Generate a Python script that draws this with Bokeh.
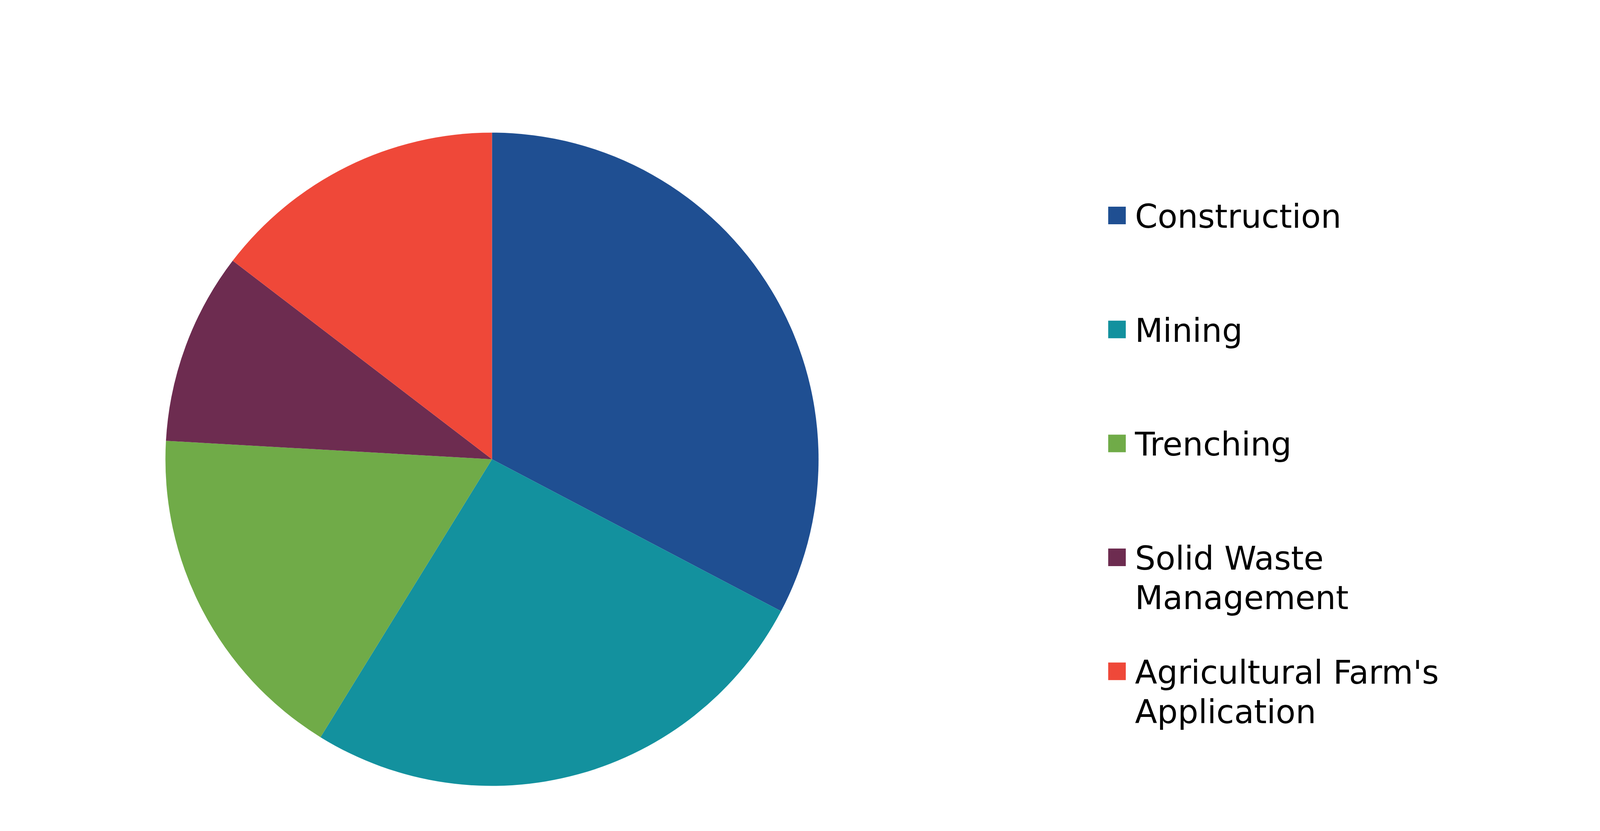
import numpy as np
from bokeh.plotting import figure
from bokeh.models import Range1d, ColumnDataSource
from bokeh.embed import file_html
from bokeh.resources import INLINE
from bokeh.core.properties import value

# ---- data ----
categories = ["Construction", "Mining", "Trenching",
              "Solid Waste\nManagement", "Agricultural Farm's\nApplication"]
shares = [32.7, 26.1, 17.1, 9.5, 14.6]
colors = ["#1F4F92", "#13919E", "#70AB48", "#6D2C50", "#EF4839"]

# ---- layout (pixels) ----
W, H = 4277, 2111
cx, cy_top, radius = 1259, 1175, 836
leg_sq_x, leg_text_x = 2859, 2905
leg_first_y, leg_step, line_step = 551, 291.7, 101
sq = 45
font = "83px"
text_offset = 3

p = figure(width=W, height=H, x_range=Range1d(0, W), y_range=Range1d(0, H),
           output_backend="svg", toolbar_location=None,
           x_axis_location=None, y_axis_location=None,
           min_border=0, min_border_left=0, min_border_right=0,
           min_border_top=0, min_border_bottom=0)
p.grid.visible = False
p.outline_line_color = None
p.background_fill_color = "white"
p.border_fill_color = "white"

vals = np.array(shares, dtype=float)
frac = vals / vals.sum()
cum_end = np.cumsum(frac)
cum_start = cum_end - frac
start = np.pi / 2 - 2 * np.pi * cum_start
end = np.pi / 2 - 2 * np.pi * cum_end

src = ColumnDataSource(dict(start=start, end=end, color=colors))
p.wedge(x=cx, y=H - cy_top, radius=radius, start_angle="start", end_angle="end",
        direction="clock", fill_color="color", line_color=None, source=src)

# legend
sq_y = [H - (leg_first_y + i * leg_step) for i in range(len(categories))]
p.rect(x=[leg_sq_x] * len(categories), y=sq_y, width=sq, height=sq,
       fill_color=colors, line_color=None)

tx, ty, tt = [], [], []
for i, lab in enumerate(categories):
    for j, line in enumerate(lab.split("\n")):
        tx.append(leg_text_x)
        ty.append(H - (leg_first_y + i * leg_step + text_offset + j * line_step))
        tt.append(line)
p.text(x=tx, y=ty, text=tt, text_font=value("DejaVu Sans"), text_font_size=font,
       text_baseline="alphabetic", text_align="left", text_color="#000000")

open("out.html", "w").write(file_html(p, INLINE))
